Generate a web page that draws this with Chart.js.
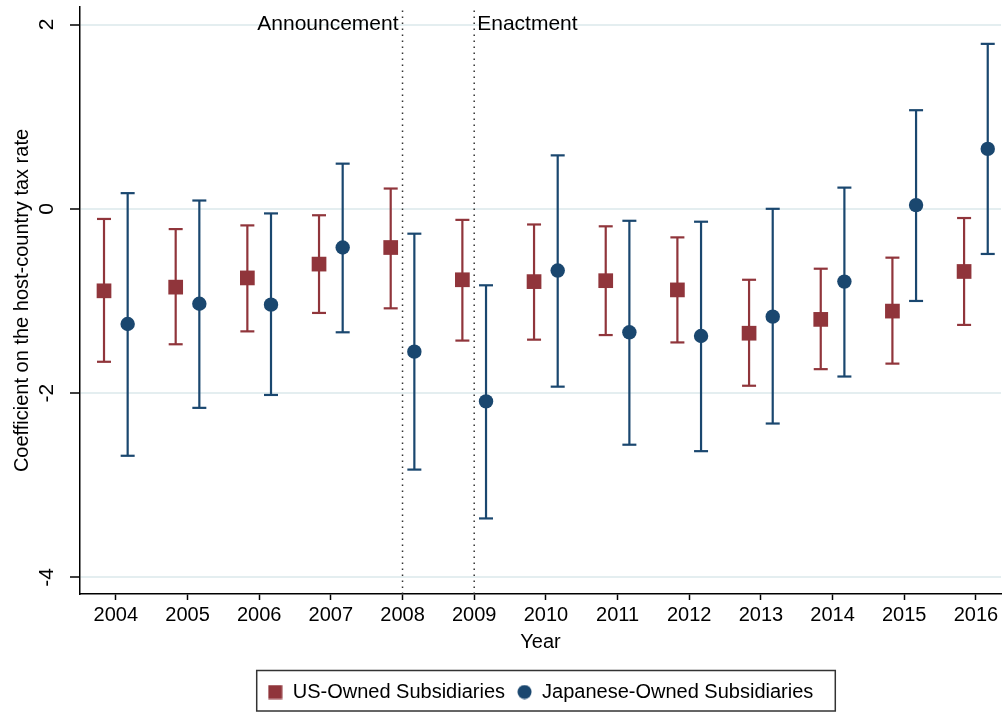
<!DOCTYPE html>
<html>
<head>
<meta charset="utf-8">
<script src="https://cdn.jsdelivr.net/npm/chart.js@4/dist/chart.umd.min.js"></script>
<style>
  html, body { margin: 0; padding: 0; background: #fff; }
  #wrap { width: 1003px; height: 712px; }
</style>
</head>
<body>
<div id="wrap"><canvas id="myChart" width="1003" height="712"></canvas></div>
<script>
// values
const years = [2004, 2005, 2006, 2007, 2008, 2009, 2010, 2011, 2012, 2013, 2014, 2015, 2016];
const usCoef = [-0.89, -0.85, -0.75, -0.60, -0.42, -0.77, -0.79, -0.78, -0.88, -1.35, -1.20, -1.11, -0.68];
const usLow  = [-1.66, -1.47, -1.33, -1.13, -1.08, -1.43, -1.42, -1.37, -1.45, -1.92, -1.74, -1.68, -1.26];
const usHigh = [-0.11, -0.22, -0.18, -0.07, 0.22, -0.12, -0.17, -0.19, -0.31, -0.77, -0.65, -0.53, -0.10];
const jpCoef = [-1.25, -1.03, -1.04, -0.42, -1.55, -2.09, -0.67, -1.34, -1.38, -1.17, -0.79, 0.04, 0.65];
const jpLow  = [-2.68, -2.16, -2.02, -1.34, -2.83, -3.36, -1.93, -2.56, -2.63, -2.33, -1.82, -1.00, -0.49];
const jpHigh = [0.17, 0.09, -0.05, 0.49, -0.27, -0.83, 0.58, -0.13, -0.14, 0.00, 0.23, 1.07, 1.79];
const yTicks = [-4, -2, 0, 2];
const eventYears = [2008, 2009];
const eventLabels = ["Announcement", "Enactment"];

const RED = "#90353b";
const BLUE = "#1a476f";
const shift = 0.165;
const yMin = -4.18, yMax = 2.19;

function pts(vals, dx) {
  return years.map((yr, i) => ({ x: yr + dx, y: vals[i] }));
}
function stems(lo, hi, dx) {
  let out = [];
  years.forEach((yr, i) => {
    out.push({ x: yr + dx, y: lo[i] }, { x: yr + dx, y: hi[i] }, { x: yr + dx, y: null });
  });
  return out;
}
function caps(lo, hi, dx) {
  return pts(lo, dx).concat(pts(hi, dx));
}
function vlines() {
  let out = [];
  eventYears.forEach(yr => out.push({ x: yr, y: yMin }, { x: yr, y: yMax }, { x: yr, y: null }));
  return out;
}
function marker(shape, color) {
  const c = document.createElement("canvas");
  c.width = 15; c.height = 15;
  const g = c.getContext("2d");
  g.fillStyle = color;
  if (shape === "rect") g.fillRect(0.5, 0.5, 14, 14);
  else { g.beginPath(); g.arc(7.5, 7.5, 7, 0, 2 * Math.PI); g.fill(); }
  return c;
}
const legendIcons = [marker("rect", RED), marker("circle", BLUE)];

const FONT = "'Liberation Sans', Arial, sans-serif";

const extras = {
  id: "extras",
  afterDraw(chart) {
    const ctx = chart.ctx;
    const x = chart.scales.x, y = chart.scales.y;
    ctx.save();
    ctx.fillStyle = "#000";
    ctx.font = "21px " + FONT;
    ctx.textBaseline = "middle";
    ctx.textAlign = "right";
    ctx.fillText(eventLabels[0], x.getPixelForValue(eventYears[0]) - 4, y.getPixelForValue(2));
    ctx.textAlign = "left";
    ctx.fillText(eventLabels[1], x.getPixelForValue(eventYears[1]) + 3, y.getPixelForValue(2));
    // legend frame
    const boxes = chart.legend.legendHitBoxes;
    if (boxes && boxes.length) {
      const l = boxes[0].left - 11;
      const last = boxes[boxes.length - 1];
      const r = last.left + last.width + 22;
      ctx.strokeStyle = "#333";
      ctx.lineWidth = 1.5;
      ctx.strokeRect(l, chart.legend.top + 0.5, r - l, chart.legend.bottom - chart.legend.top - 1.5);
    }
    ctx.restore();
  }
};

const ctx = document.getElementById("myChart").getContext("2d");
new Chart(ctx, {
  type: "scatter",
  data: {
    datasets: [
      { label: "US-Owned Subsidiaries", data: pts(usCoef, -shift), pointStyle: "rect",
        pointRadius: 10.4, backgroundColor: RED, borderWidth: 0, order: 0 },
      { label: "Japanese-Owned Subsidiaries", data: pts(jpCoef, shift), pointStyle: "circle",
        pointRadius: 7.2, backgroundColor: BLUE, borderWidth: 0, order: 0 },
      { data: stems(usLow, usHigh, -shift), showLine: true, spanGaps: false, pointRadius: 0,
        borderColor: RED, borderWidth: 2.2, order: 1 },
      { data: stems(jpLow, jpHigh, shift), showLine: true, spanGaps: false, pointRadius: 0,
        borderColor: BLUE, borderWidth: 2.2, order: 1 },
      { data: caps(usLow, usHigh, -shift), pointStyle: "line", pointRadius: 7,
        borderColor: RED, borderWidth: 2.2, order: 1 },
      { data: caps(jpLow, jpHigh, shift), pointStyle: "line", pointRadius: 7,
        borderColor: BLUE, borderWidth: 2.2, order: 1 },
      { data: vlines(), showLine: true, spanGaps: false, pointRadius: 0,
        borderColor: "#333", borderWidth: 1.5, borderDash: [1.5, 4.5], order: 2 }
    ]
  },
  options: {
    responsive: false,
    animation: false,
    layout: { autoPadding: false, padding: { top: 7, right: 2, left: 0, bottom: 0 } },
    plugins: {
      tooltip: { enabled: false },
      legend: {
        position: "bottom",
        fullSize: false,
        labels: {
          usePointStyle: true,
          boxWidth: 15,
          boxHeight: 15,
          padding: 12,
          color: "#000",
          font: { family: FONT, size: 20 },
          filter: item => !!item.text,
          generateLabels(chart) {
            const items = Chart.defaults.plugins.legend.labels.generateLabels(chart);
            items.forEach(it => { if (it.datasetIndex < 2) it.pointStyle = legendIcons[it.datasetIndex]; });
            return items;
          }
        }
      }
    },
    scales: {
      x: {
        type: "linear",
        min: 2003.5,
        max: 2016.35,
        afterBuildTicks: s => { s.ticks = years.map(v => ({ value: v })); },
        afterFit: s => { s.height = 76; s.paddingLeft = 0; s.paddingRight = 0; },
        grid: { drawOnChartArea: false, tickLength: 6, tickColor: "#000", tickWidth: 1.5 },
        border: { color: "#000", width: 1.5 },
        ticks: { color: "#000", font: { family: FONT, size: 20 }, padding: 3, maxRotation: 0,
                 callback: v => String(v) },
        title: { display: true, text: "Year", color: "#000", font: { family: FONT, size: 20 },
                 padding: { top: 0, bottom: 16 } }
      },
      y: {
        min: yMin,
        max: yMax,
        afterBuildTicks: s => { s.ticks = yTicks.map(v => ({ value: v })); },
        afterFit: s => { s.width = 80; s.paddingTop = 0; s.paddingBottom = 0; },
        grid: { color: "#e4eef0", lineWidth: 2, tickLength: 10, tickColor: "#000", tickWidth: 1.5 },
        border: { color: "#000", width: 1.5 },
        ticks: { color: "#000", font: { family: FONT, size: 21 }, minRotation: 90, maxRotation: 90,
                 crossAlign: "center", padding: 13, callback: v => String(v) },
        title: { display: true, text: "Coefficient on the host-country tax rate", color: "#000",
                 font: { family: FONT, size: 20 }, padding: 10 }
      }
    }
  },
  plugins: [extras]
});
</script>
</body>
</html>
